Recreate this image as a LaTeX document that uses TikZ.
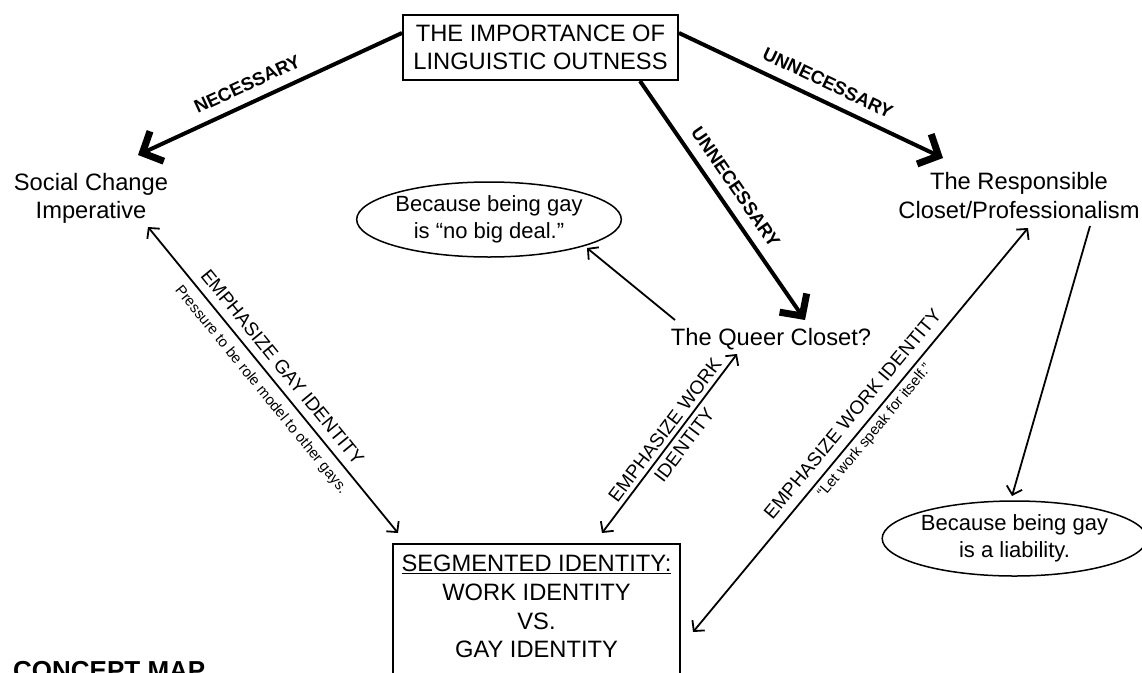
\documentclass[tikz,border=0pt]{standalone}
\usepackage{fontspec}
\setmainfont{Liberation Sans}
\usetikzlibrary{arrows.meta,shapes.geometric}
\begin{document}
\begin{tikzpicture}[x=1pt,y=-1pt,
  txt/.style={font=\fontsize{23.7}{28.5}\selectfont, inner sep=0pt, align=center},
  lbl/.style={font=\fontsize{18.5}{21}\selectfont\bfseries, inner sep=0pt, sloped},
  elbl/.style={font=\fontsize{19}{22}\selectfont, inner sep=0pt, sloped},
  smalllbl/.style={font=\fontsize{14.8}{17}\selectfont, inner sep=0pt, sloped},
  bigarrow/.style={line width=4pt, -{Straight Barb[length=16pt,width=33pt,line width=7pt]}},
  thinarrow/.style={line width=1.8pt, -{Straight Barb[length=7.5pt,width=16pt]}},
  dblarrow/.style={line width=1.8pt, {Straight Barb[length=7.5pt,width=16pt]}-{Straight Barb[length=7.5pt,width=16pt]}},
  bubble/.style={ellipse, draw, line width=1.5pt, inner sep=0pt, font=\fontsize{22}{26.5}\selectfont, align=center},
]
\useasboundingbox (0,0) rectangle (1142,672);
\fill[white] (0,0) rectangle (1142,672);

% nodes
\node[txt, draw, line width=2pt, minimum width=275pt, minimum height=65pt] (top) at (540.5,47.5) {THE IMPORTANCE OF\\LINGUISTIC OUTNESS};
\node[txt] (sci) at (91,198.5) {Social Change\\Imperative};
\node[txt] (resp) at (1019,195.3) {The Responsible\\Closet/Professionalism};
\node[txt, anchor=base] (queer) at (771,345.5) {The Queer Closet?};
\node[bubble, minimum width=236pt, minimum height=75pt] (deal) at (489,219.5) {Because being gay\\is “no big deal.”};
\node[bubble, minimum width=239pt, minimum height=75pt] (liab) at (1014.5,538.5) {Because being gay\\is a liability.};
\node[txt, font=\fontsize{23.7}{28.7}\selectfont, anchor=north, minimum width=287pt, inner ysep=11pt] (si) at (536.5,544) {\underline{SEGMENTED IDENTITY:}\\WORK IDENTITY\\VS.\\GAY IDENTITY};
\draw[line width=2pt] (si.north west) rectangle ([yshift=-40pt]si.south east);
\node[font=\fontsize{26}{30}\selectfont\bfseries, anchor=base west, inner sep=0pt] (cmap) at (13,679) {CONCEPT MAP};

% connector ends
\coordinate (sci-in) at (138,155);
\coordinate (sci-out) at (148,227);
\coordinate (resp-in) at (943,158);
\coordinate (resp-out) at (1028,228);
\coordinate (resp-down) at (1090,226);
\coordinate (queer-in) at (805,320);
\coordinate (queer-up) at (675,320);
\coordinate (queer-out) at (737,354);
\coordinate (deal-in) at (587,248);
\coordinate (liab-in) at (1012,496);
\coordinate (si-in1) at (398,533);
\coordinate (si-in2) at (602,533);
\coordinate (si-in3) at (693,632);

% connectors
\draw[bigarrow] ([yshift=14.5pt]top.west) -- (sci-in)
  node[lbl, pos=0.557, above=10pt] {NECESSARY};
\draw[bigarrow] ([yshift=14.5pt]top.east) -- (resp-in)
  node[lbl, pos=0.534, above=10pt] {UNNECESSARY};
\draw[bigarrow] ([xshift=99.5pt]top.south) -- (queer-in)
  node[lbl, pos=0.488, above=10pt] {UNNECESSARY};
\draw[thinarrow] (queer-up) -- (deal-in);
\draw[thinarrow] (resp-down) -- (liab-in);
\draw[dblarrow] (sci-out) -- (si-in1)
  node[elbl, pos=0.49, above=8pt] {EMPHASIZE GAY IDENTITY}
  node[smalllbl, pos=0.5, below=8pt] {Pressure to be role model to other gays.};
\draw[dblarrow] (si-in2) -- (queer-out)
  node[elbl, pos=0.535, above=4pt] {EMPHASIZE WORK}
  node[elbl, pos=0.535, below=5pt] {IDENTITY};
\draw[dblarrow] (si-in3) -- (resp-out)
  node[elbl, pos=0.514, above=9pt] {EMPHASIZE WORK IDENTITY}
  node[smalllbl, pos=0.516, below=4pt] {“Let work speak for itself.”};
\end{tikzpicture}
\end{document}
